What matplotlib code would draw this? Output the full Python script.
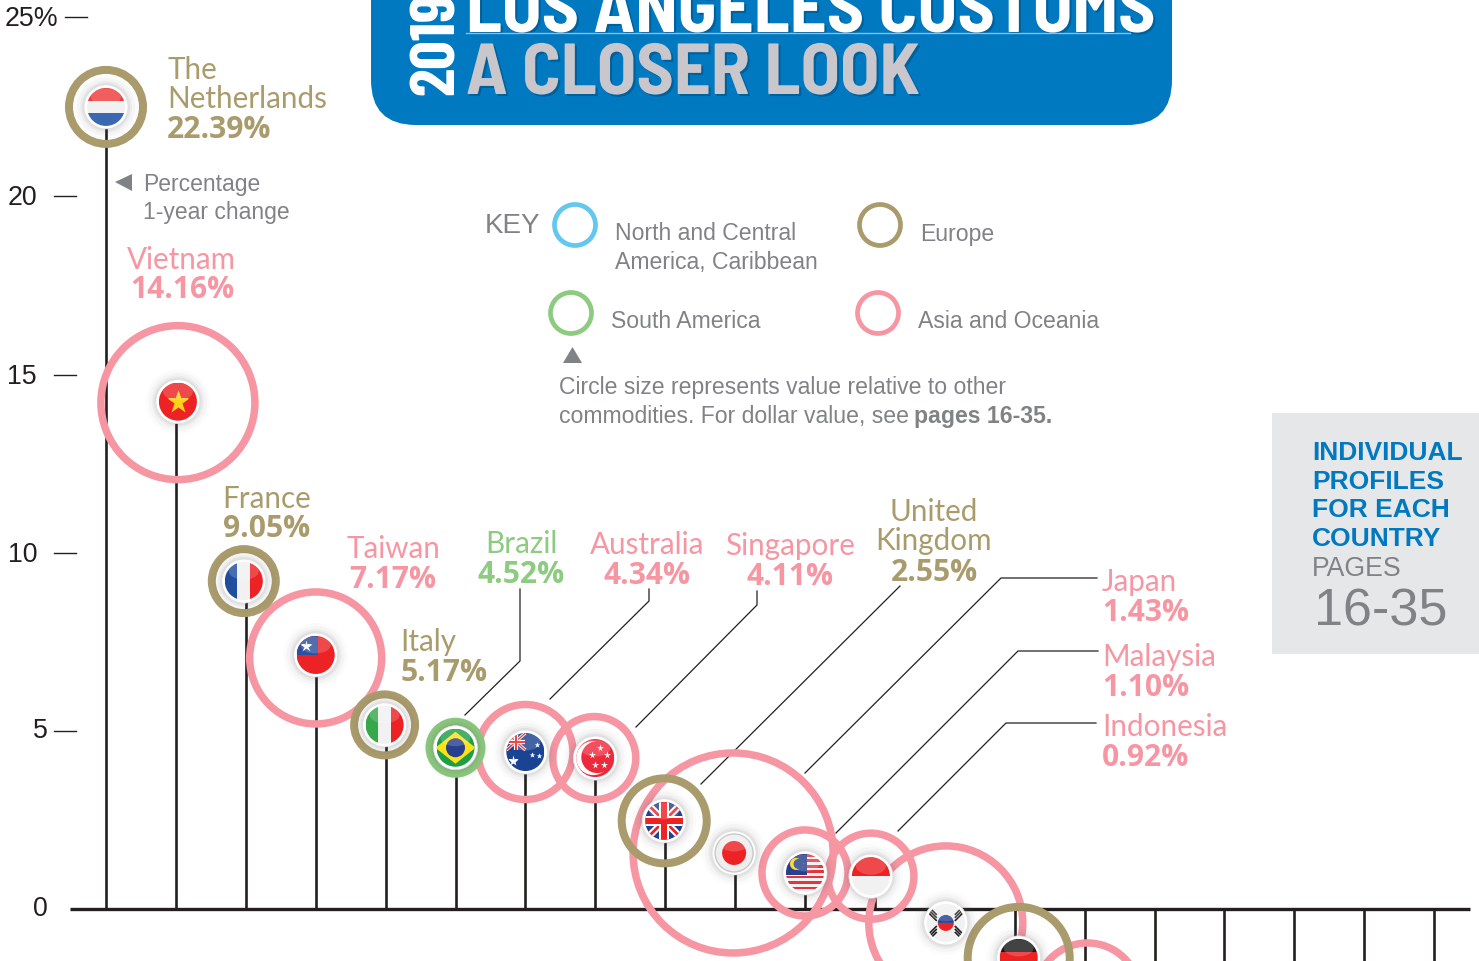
import matplotlib
matplotlib.use('Agg')
import matplotlib.pyplot as plt
import matplotlib.patheffects as pe
from matplotlib.patches import Circle, Rectangle, Ellipse, Polygon, FancyBboxPatch, Wedge

plt.rcParams['font.family'] = ['Liberation Sans', 'DejaVu Sans']

W, H = 1479, 962

# data
countries = ['The Netherlands', 'Vietnam', 'France', 'Taiwan', 'Italy', 'Brazil', 'Australia', 'Singapore',
             'United Kingdom', 'Japan', 'Malaysia', 'Indonesia', 'South Korea', 'Germany', 'Other']
change = [22.39, 14.16, 9.05, 7.17, 5.17, 4.52, 4.34, 4.11, 2.55, 1.43, 1.10, 0.92, None, None, None]
# height of each marker
marker_y = [22.48, 14.22, 9.19, 7.12, 5.16, 4.52, 4.40, 4.23, 2.47, 1.57, 1.01, 0.92, -0.39, -1.37, -2.41]
region = ['eu', 'asia', 'eu', 'asia', 'eu', 'sa', 'asia', 'asia', 'eu', 'asia', 'asia', 'asia', 'asia', 'eu', 'asia']
ring_r = [37, 77, 32, 66, 30.5, 26, 47.5, 41.5, 42.5, 100, 43, 43, 77, 51, 52]
y_ticks = [0, 5, 10, 15, 20, 25]
y_tick_labels = ['0', '5', '10', '15', '20', '25%']
hidden_stems = [14, 15, 16, 17, 18, 19]

GOLD = '#a99b6c'
PINK = '#f796a3'
GREEN = '#8dcb80'
LIGHTBLUE = '#63c7ee'
BLUE = '#0079c1'
GREY = '#808285'
INK = '#231f20'
colors = {'eu': GOLD, 'asia': PINK, 'sa': GREEN}

LABEL_FONT = ['Lato', 'DejaVu Sans']
VALUE_FONT = ['Open Sans', 'DejaVu Sans']
NARROW = ['Barlow Semi Condensed', 'Barlow Condensed', 'Liberation Sans']

fig = plt.figure(figsize=(W / 100, H / 100), dpi=100)

# data axes: 70 px per country, 35.68 px per percent, zero line at y=910
ax = fig.add_axes([0, 0, 1, 1])
ax.set_xlim(-106 / 69.9, (W - 106) / 69.9)
ax.set_ylim(-(H - 910) / 35.68, 910 / 35.68)
ax.axis('off')

# pixel overlay for everything that is decoration
ov = fig.add_axes([0, 0, 1, 1])
ov.set_xlim(0, W)
ov.set_ylim(H, 0)
ov.axis('off')
ov.patch.set_alpha(0)


def to_px(x, y):
    dx, dy = ax.transData.transform((x, y))
    return dx, H - dy


def txt(x, y, s, **kw):
    # centred text sits about 2 px high
    return ov.text(x, y + 2, s, **kw)


# stems and zero line
for i, v in enumerate(marker_y[:14]):
    ax.vlines(i, 0, v, color=INK, lw=1.9, zorder=2)
ax.vlines(hidden_stems, 0, ax.get_ylim()[0], color=INK, lw=1.9, zorder=2)
ax.hlines(0, (70 - 106) / 69.9, (1470 - 106) / 69.9, color=INK, lw=2.4, zorder=3)

# y ticks
for t, lab in zip(y_ticks, y_tick_labels):
    _, py = to_px(0, t)
    if t == 25:
        ov.plot([65, 87], [py, py], color=INK, lw=1)
        txt(5, py - 1, lab, fontsize=19.3, color=INK, va='center', ha='left')
    elif t == 0:
        txt(48, py - 3, lab, fontsize=19.3, color=INK, va='center', ha='right')
    elif t == 5:
        ov.plot([54, 76], [py, py], color=INK, lw=1)
        txt(48, py - 3, lab, fontsize=19.3, color=INK, va='center', ha='right')
    else:
        ov.plot([54, 76], [py + 1, py + 1], color=INK, lw=1)
        txt(37, py, lab, fontsize=19.3, color=INK, va='center', ha='right')

# rings, asia first so gold sits on top where they cross
ring_dx = [0, 2, -2, 0, -1, 0, 0, -1, -1, -2, 0, -4, 1, 4, 3]
ring_dy = [0, 1, 0, 3, 0, 0, 0, 0, 0, 0, 0, 0, 0, 0, 0]
ring_w = {'eu': 8, 'asia': 7.5, 'sa': 8}
order = sorted(range(len(marker_y)), key=lambda k: region[k] != 'asia')
for k in order:
    cx, cy = to_px(k, marker_y[k])
    ov.add_patch(Circle((cx + ring_dx[k], cy + ring_dy[k]), ring_r[k], fill=False,
                        ec=colors[region[k]], lw=ring_w[region[k]] * 0.72, zorder=3))


# flags
def rect(clip, x, y, w, h, c):
    p = Rectangle((x, y), w, h, fc=c, ec='none', zorder=6)
    ov.add_patch(p)
    p.set_clip_path(clip)


def line(clip, xs, ys, c, lw):
    l, = ov.plot(xs, ys, color=c, lw=lw, zorder=6, solid_capstyle='butt')
    l.set_clip_path(clip)


def star(clip, x, y, c, s):
    l, = ov.plot([x], [y], marker='*', ms=s, color=c, mec='none', zorder=7)
    l.set_clip_path(clip)


def draw_flag(k, cx, cy):
    R = 19
    for hr, a in [(32, .025), (29, .035), (26, .05), (24, .07)]:
        ov.add_patch(Circle((cx, cy), hr, fc='#555555', ec='none', alpha=a, zorder=4))
    ov.add_patch(Circle((cx, cy), 22, fc='white', ec='#dddddd', lw=.5, zorder=5))
    clip = Circle((cx, cy), R, fc='#f1f1f1', ec='none', zorder=5.5)
    ov.add_patch(clip)
    L, T, D = cx - R, cy - R, 2 * R
    name = countries[k]
    if name == 'The Netherlands':
        rect(clip, L, T, D, D / 3, '#ee3b3b')
        rect(clip, L, T + 2 * D / 3, D, D / 3, '#3c68b1')
    elif name == 'Vietnam':
        rect(clip, L, T, D, D, '#ed2224')
        star(clip, cx, cy, '#fcd116', 17)
    elif name == 'France':
        rect(clip, L, T, D / 3, D, '#1f4e9e')
        rect(clip, L + 2 * D / 3, T, D / 3, D, '#ed2224')
    elif name == 'Taiwan':
        rect(clip, L, T, D, D, '#ed2224')
        rect(clip, L, T, D / 2 + 2, D / 2, '#2e4f9f')
        star(clip, cx - 10, cy - 9, 'white', 9)
    elif name == 'Italy':
        rect(clip, L, T, D / 3, D, '#35a84a')
        rect(clip, L + 2 * D / 3, T, D / 3, D, '#ed2224')
    elif name == 'Brazil':
        rect(clip, L, T, D, D, '#1f9e48')
        d = Polygon([(cx - 20, cy), (cx, cy - 16), (cx + 20, cy), (cx, cy + 16)], fc='#fbe216', ec='none', zorder=6)
        ov.add_patch(d)
        d.set_clip_path(clip)
        ov.add_patch(Circle((cx, cy), 9.5, fc='#26408f', ec='none', zorder=7))
    elif name == 'Australia':
        rect(clip, L, T, D, D, '#1b4393')
        line(clip, [L, cx], [T, cy - 2], 'white', 2.2)
        line(clip, [L, cx], [cy - 2, T], 'white', 2.2)
        line(clip, [L, cx], [T, cy - 2], '#ed2224', 1)
        line(clip, [L, cx], [cy - 2, T], '#ed2224', 1)
        line(clip, [(L + cx) / 2] * 2, [T, cy - 2], 'white', 3)
        line(clip, [L, cx], [(T + cy - 2) / 2] * 2, 'white', 3)
        line(clip, [(L + cx) / 2] * 2, [T, cy - 2], '#ed2224', 1.5)
        line(clip, [L, cx], [(T + cy - 2) / 2] * 2, '#ed2224', 1.5)
        for sx, sy, s in [(-12, 9, 8), (12, -7, 4), (7, 3, 4), (14, 4, 4)]:
            star(clip, cx + sx, cy + sy, 'white', s)
    elif name == 'Singapore':
        rect(clip, L, T, D, D, '#ed2a3c')
        ov.add_patch(Circle((cx - 2, cy), 17, fc='white', ec='none', zorder=6))
        ov.add_patch(Circle((cx + 2, cy - 1), 16, fc='#ed2a3c', ec='none', zorder=6.5))
        for sx, sy in [(5, -10), (-3, -3), (12, -3), (0, 7), (9, 7)]:
            star(clip, cx + sx, cy + sy, 'white', 5.5)
    elif name == 'United Kingdom':
        rect(clip, L, T, D, D, '#25408f')
        line(clip, [L, L + D], [T, T + D], 'white', 5)
        line(clip, [L, L + D], [T + D, T], 'white', 5)
        line(clip, [L, L + D], [T, T + D], '#ed2224', 2)
        line(clip, [L, L + D], [T + D, T], '#ed2224', 2)
        rect(clip, cx - 5, T, 10, D, 'white')
        rect(clip, L, cy - 5, D, 10, 'white')
        rect(clip, cx - 3, T, 6, D, '#ed2224')
        rect(clip, L, cy - 3, D, 6, '#ed2224')
    elif name == 'Japan':
        ov.add_patch(Circle((cx, cy), 19, fc='#eeeeee', ec='#c8c8c8', lw=1, zorder=6))
        ov.add_patch(Circle((cx, cy), 12, fc='#ed2224', ec='none', zorder=7))
    elif name == 'Malaysia':
        for s in range(7):
            rect(clip, L, T + s * D / 7, D, D / 14, '#e8333a')
        rect(clip, L, T, D * .56, D * .55, '#26408f')
        ov.add_patch(Circle((cx - 9, cy - 9), 6, fc='#fbd616', ec='none', zorder=7))
        ov.add_patch(Circle((cx - 6.5, cy - 9), 5, fc='#26408f', ec='none', zorder=7.2))
        star(clip, cx - 5, cy - 9, '#fbd616', 6)
    elif name == 'Indonesia':
        rect(clip, L, T, D, D / 2, '#ed2224')
    elif name == 'South Korea':
        ov.add_patch(Wedge((cx, cy), 8, 0, 180, fc='#ed2224', ec='none', zorder=7))
        ov.add_patch(Wedge((cx, cy), 8, 180, 360, fc='#26408f', ec='none', zorder=7))
        for sx, sy, a in [(-13, -9, 45), (13, -9, -45), (-13, 10, -45), (13, 10, 45)]:
            xs = [cx + sx - 4, cx + sx + 4]
            for off in (-3, 0, 3):
                dy = 4 if a > 0 else -4
                line(clip, xs, [cy + sy + off - dy, cy + sy + off + dy], '#222222', 1.2)
    elif name == 'Germany':
        rect(clip, L, T, D, D / 3, '#1a1a1a')
        rect(clip, L, T + D / 3, D, D / 3, '#ed2224')
        rect(clip, L, T + 2 * D / 3, D, D / 3, '#fbd616')
    gloss = Ellipse((cx, cy - 10), 30, 17, fc='white', ec='none', alpha=.18, zorder=8)
    ov.add_patch(gloss)
    gloss.set_clip_path(clip)


flag_dx = [0, 2, -2, 0, -1, 0, 0, 0, -1, -1, 0, -4, 1, 4]
for k in range(14):
    cx, cy = to_px(k, marker_y[k])
    draw_flag(k, cx + flag_dx[k], cy)

# connector lines from the labels down to the markers
connectors = [
    [(520, 590), (520, 662), (465, 716)],
    [(649, 590), (649, 602), (550, 700)],
    [(757, 592), (757, 606), (636, 728)],
    [(900, 587), (701, 785)],
    [(1097, 579), (1001, 579), (805, 774)],
    [(1098, 652), (1018, 652), (836, 834)],
    [(1096, 724), (1006, 724), (898, 832)],
]
for c in connectors:
    ov.plot([p[0] for p in c], [p[1] for p in c], color=INK, lw=.9, zorder=2.5)

# country labels: lines, x, first y, value y, ha
label_pos = {
    'The Netherlands': (['The', 'Netherlands'], 167, 68, 127, 'left', 167),
    'Vietnam': (['Vietnam'], 127, 258, 287, 'left', 130),
    'France': (['France'], 267, 497, 526, 'center', 267),
    'Taiwan': (['Taiwan'], 393, 547, 577, 'center', 393),
    'Italy': (['Italy'], 400, 640, 670, 'left', 400),
    'Brazil': (['Brazil'], 521, 542, 572, 'center', 521),
    'Australia': (['Australia'], 647, 543, 573, 'center', 647),
    'Singapore': (['Singapore'], 790, 544, 574, 'center', 790),
    'United Kingdom': (['United', 'Kingdom'], 934, 510, 570, 'center', 934),
    'Japan': (['Japan'], 1102, 580, 610, 'left', 1102),
    'Malaysia': (['Malaysia'], 1102, 655, 685, 'left', 1102),
    'Indonesia': (['Indonesia'], 1102, 725, 755, 'left', 1102),
}
for k, name in enumerate(countries):
    if name not in label_pos:
        continue
    lines, x, y0, yv, ha, xv = label_pos[name]
    c = colors[region[k]]
    for n, s in enumerate(lines):
        txt(x, y0 + n * 29.5, s, fontsize=21.3, family=LABEL_FONT, color=c, ha=ha, va='center', zorder=9)
    txt(xv, yv + 1, f'{change[k]:.2f}%', fontsize=21.6, family=VALUE_FONT, weight='bold', color=c,
        ha=ha, va='center', zorder=9)

# percentage note
ov.add_patch(Polygon([(115, 183), (132, 175), (132, 192)], fc=GREY, ec='none'))
txt(143, 183, 'Percentage', fontsize=16.5, color=GREY, va='center')
txt(143, 211, '1-year change', fontsize=16.5, color=GREY, va='center')

# header banner
ov.add_patch(FancyBboxPatch((371 + 45, -100 + 45), 801 - 90, 225 - 90 + 1, boxstyle='round,pad=45,rounding_size=45',
                            fc=BLUE, ec='none', zorder=1))
shadow = [pe.withSimplePatchShadow(offset=(1.5, -1.5), shadow_rgbFace='#005a92', alpha=.8)]
ov.text(466, 33, 'LOS ANGELES CUSTOMS', fontsize=52, family=NARROW, weight='bold', color='white',
        va='baseline', ha='left', zorder=2, path_effects=shadow)
ov.plot([466, 1130], [34, 34], color='#7fc2ea', lw=1, zorder=2.5)
ov.text(466, 95, 'A CLOSER LOOK', fontsize=52, family=NARROW, weight='bold', color='#c9c7cb',
        va='baseline', ha='left', zorder=2, path_effects=shadow)
ov.text(454, 95, '2019', fontsize=46, family=['Barlow Condensed', 'Liberation Sans'], weight='bold', color='white',
        rotation=90, rotation_mode='anchor', va='baseline', ha='left', zorder=2)

# key
txt(485, 224, 'KEY', fontsize=20, color=GREY, va='center')
key_rings = [(575, 226, LIGHTBLUE), (880, 226, GOLD), (571, 314, GREEN), (878, 314, PINK)]
for x, y, c in key_rings:
    ov.add_patch(Circle((x, y), 20.5, fill=False, ec=c, lw=3.4))
for x, y, s in [(615, 232, 'North and Central'), (615, 261, 'America, Caribbean'), (920, 232, 'Europe'),
                (611, 320, 'South America'), (918, 320, 'Asia and Oceania'),
                (559, 386, 'Circle size represents value relative to other'),
                (559, 415, 'commodities. For dollar value, see')]:
    txt(x, y, s, fontsize=16.6, color=GREY, va='center')
txt(914, 415, 'pages 16-35.', fontsize=16.6, weight='bold', color=GREY, va='center')
ov.add_patch(Polygon([(563, 364), (582, 364), (572.5, 348)], fc=GREY, ec='none'))

# pages box
ov.add_patch(Rectangle((1272, 414), 207, 241, fc='#e6e7e8', ec='none'))
for y, s in zip([451, 480, 508, 537], ['INDIVIDUAL', 'PROFILES', 'FOR EACH', 'COUNTRY']):
    txt(1312, y, s, fontsize=19, weight='bold', color=BLUE, va='center')
txt(1312, 567, 'PAGES', fontsize=19.2, color=GREY, va='center')
txt(1314, 610, '16-35', fontsize=37.5, color=GREY, va='center')

fig.savefig('out.png', dpi=100)
